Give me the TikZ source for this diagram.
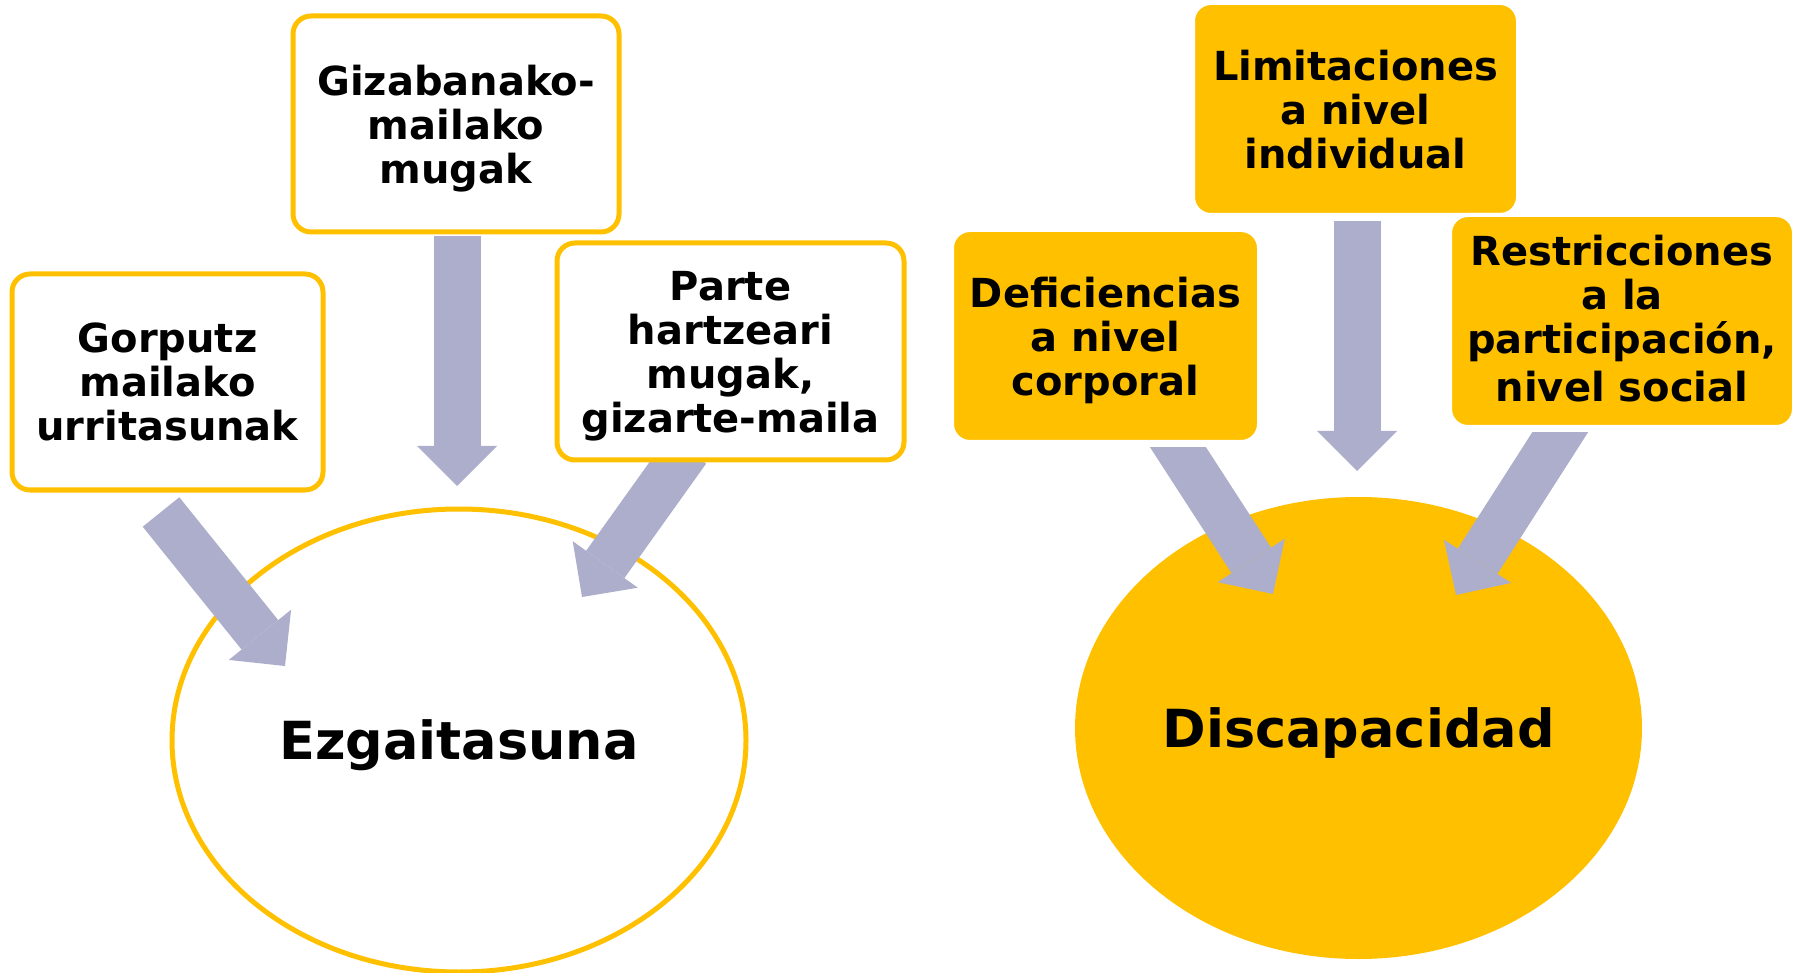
\documentclass[tikz,border=0pt]{standalone}
\usepackage{fontspec}
\setmainfont{DejaVu Sans}
\usetikzlibrary{arrows.meta,shapes.geometric}
\definecolor{gold}{RGB}{255,192,0}
\definecolor{arrowgray}{RGB}{173,174,203}
\pgfdeclarelayer{bg}
\pgfsetlayers{bg,main}
\begin{document}
\begin{tikzpicture}[x=1pt,y=-1pt,
  boxtext/.style={align=center, inner sep=0pt, rounded corners=18pt,
    font=\fontsize{40}{44}\selectfont\bfseries, text depth=0pt},
  wbox/.style={boxtext, draw=gold, line width=5pt, fill=white},
  ybox/.style={boxtext, draw=white, line width=4pt, fill=gold},
  bigtext/.style={font=\fontsize{52.5}{60}\selectfont\bfseries,
    text height=38.3pt, text depth=0pt, inner sep=0pt},
  wellipse/.style={ellipse, bigtext, draw=gold, line width=5pt, fill=white},
  yellipse/.style={ellipse, bigtext, fill=gold},
  bigarrow/.style={draw=arrowgray, line width=47pt,
    -{Triangle[length=40pt,width=80pt,line width=0pt]}},
]
\useasboundingbox (0,0) rectangle (1800,973);

% boxes (left)
\node[wbox, minimum width=326pt, minimum height=216pt] (giza) at (456,124)
  {Gizabanako-\\mailako\\mugak};
\node[wbox, minimum width=311pt, minimum height=216pt] (gorp) at (167.5,382)
  {Gorputz\\mailako\\urritasunak};
\node[wbox, minimum width=347pt, minimum height=217pt] (parte) at (730.5,351.5)
  {Parte\\hartzeari\\mugak,\\gizarte-maila};

% boxes (right)
\node[ybox, minimum width=325pt, minimum height=212pt] (limit) at (1355.5,109)
  {Limitaciones\\a nivel\\individual};
\node[ybox, minimum width=307pt, minimum height=212pt] (defic) at (1105.5,336)
  {Deficiencias\\a nivel\\corporal};
\node[ybox, text depth=6pt, minimum width=344pt, minimum height=212pt] (restr) at (1622,321)
  {Restricciones\\a la\\participación,\\[4pt]nivel social};

\begin{pgfonlayer}{bg}
\node[wellipse, minimum width=574pt, minimum height=463pt] (ezg) at (459,740.5)
  {Ezgaitasuna};
\node[yellipse, minimum width=567pt, minimum height=462pt] (disc) at (1358.5,728)
  {Discapacidad};

% arrow end points
\coordinate (a1s) at (457,236);    \coordinate (a1e) at (457,486);
\coordinate (a2s) at (161,512);    \coordinate (a2e) at (285,666);
\coordinate (a3s) at (687,450);    \coordinate (a3e) at (582,597);
\coordinate (a4s) at (1357,221);   \coordinate (a4e) at (1357,471);
\coordinate (a5s) at (1160.4,420); \coordinate (a5e) at (1273,594);
\coordinate (a6s) at (1580.8,400); \coordinate (a6e) at (1456,595);

\draw[bigarrow] (a1s) -- (a1e);
\draw[bigarrow] (a2s) -- (a2e);
\draw[bigarrow] (a3s) -- (a3e);
\draw[bigarrow] (a4s) -- (a4e);
\begin{scope}
  \clip (900,448) rectangle (1800,973);
  \draw[bigarrow] (a5s) -- (a5e);
\end{scope}
\begin{scope}
  \clip (900,432.5) rectangle (1800,973);
  \draw[bigarrow] (a6s) -- (a6e);
\end{scope}
\end{pgfonlayer}
\end{tikzpicture}
\end{document}
